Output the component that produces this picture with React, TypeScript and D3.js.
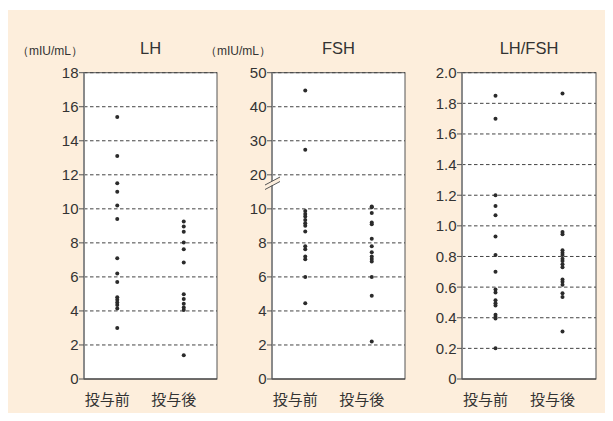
import React from "react";
import * as d3 from "d3";

const groups = ["投与前", "投与後"];

const lhPre = [15.4, 13.1, 11.5, 11.0, 10.2, 9.4, 7.1, 6.2, 5.7, 4.8, 4.65, 4.5, 4.35, 4.14, 3.0];
const lhPost = [9.25, 8.96, 8.65, 8.02, 7.63, 6.85, 4.98, 4.7, 4.42, 4.2, 4.05, 1.4];
const lhTicks = [0, 2, 4, 6, 8, 10, 12, 14, 16, 18];

const fshPre = [44.8, 27.4, 9.88, 9.7, 9.55, 9.35, 9.16, 9.0, 8.67, 7.8, 7.63, 7.2, 7.04, 6.0, 4.45];
const fshPost = [10.7, 10.45, 9.75, 9.2, 9.1, 8.25, 7.8, 7.45, 7.2, 7.05, 6.9, 6.0, 4.9, 2.2];
const fshTicks = [0, 2, 4, 6, 8, 10, 20, 30, 40, 50];

const ratioPre = [1.85, 1.7, 1.2, 1.13, 1.07, 0.93, 0.81, 0.7, 0.585, 0.565, 0.515, 0.495, 0.48, 0.42, 0.405, 0.395, 0.2];
const ratioPost = [1.865, 0.96, 0.945, 0.84, 0.825, 0.81, 0.785, 0.77, 0.75, 0.73, 0.65, 0.635, 0.615, 0.56, 0.535, 0.31];
const ratioTicks = [0, 0.2, 0.4, 0.6, 0.8, 1.0, 1.2, 1.4, 1.6, 1.8, 2.0];

const TOP = 72.7;
const BOTTOM = 379;
const NUM_FONT = "'Liberation Sans', Arial, sans-serif";
const JP_FONT = "'Noto Sans CJK JP', sans-serif";
const BG = "#fdeedc";

type PanelProps = {
  x0: number;
  w: number;
  title: string;
  unit?: boolean;
  y: (v: number) => number;
  ticks: number[];
  fmt: (v: number) => string;
  pre: number[];
  post: number[];
  brk?: boolean;
};

function Panel({ x0, w, title, unit, y, ticks, fmt, pre, post, brk }: PanelProps) {
  const x = d3.scalePoint<string>().domain(groups).range([x0, x0 + w]).padding(0.5);
  const series = [pre, post];
  return (
    <g>
      <rect x={x0} y={TOP} width={w} height={BOTTOM - TOP} fill="#fff" stroke="#555" strokeWidth={1} />
      {ticks.filter((t) => t !== ticks[0]).map((t) => (
        <line key={"g" + t} x1={x0} x2={x0 + w} y1={y(t)} y2={y(t)} stroke="#444" strokeWidth={1} strokeDasharray="3.5,2.5" />
      ))}
      <line x1={x0} x2={x0} y1={TOP} y2={BOTTOM} stroke="#8a8a8a" strokeWidth={2} />
      <line x1={x0} x2={x0 + w} y1={BOTTOM} y2={BOTTOM} stroke="#333" strokeWidth={1.2} />
      {ticks.map((t) => (
        <g key={"t" + t}>
          <line x1={x0 - 5} x2={x0} y1={y(t)} y2={y(t)} stroke="#555" strokeWidth={1} />
          <text x={x0 - 5.5} y={y(t)} dy="0.36em" textAnchor="end" fontSize={15} fill="#333" fontFamily={NUM_FONT}>
            {fmt(t)}
          </text>
        </g>
      ))}
      {brk && (
        <g>
          <polygon points={`${x0 - 7},${189} ${x0 + 8},${181} ${x0 + 8},${177} ${x0 - 7},${185}`} fill={BG} />
          <line x1={x0 - 7} y1={189.5} x2={x0 + 8} y2={181.5} stroke="#555" strokeWidth={1} />
          <line x1={x0 - 7} y1={185} x2={x0 + 8} y2={177} stroke="#555" strokeWidth={1} />
        </g>
      )}
      {series.map((vals, i) =>
        vals.map((v, j) => (
          <circle key={i + "-" + j} cx={x(groups[i])!} cy={y(v)} r={2} fill="#2b2b2b" />
        ))
      )}
      {groups.map((g) => (
        <text key={g} x={x(g)! - 10} y={405} textAnchor="middle" fontSize={15} fill="#333" fontFamily={JP_FONT}>
          {g}
        </text>
      ))}
      <text x={x0 + w / 2} y={54} textAnchor="middle" fontSize={16.5} fill="#333" fontFamily={NUM_FONT}>
        {title}
      </text>
      {unit && (
        <text x={x0 - 1} y={55} textAnchor="end" fontSize={12} fill="#333" fontFamily={NUM_FONT}>
          （mIU/mL）
        </text>
      )}
    </g>
  );
}

export default function App() {
  const yLH = d3.scaleLinear().domain([0, 18]).range([BOTTOM, TOP]);
  const yFSH = d3.scaleLinear().domain([0, 10, 20, 50]).range([BOTTOM, BOTTOM - 5 * 34.03, BOTTOM - 6 * 34.03, TOP]);
  const yR = d3.scaleLinear().domain([0, 2]).range([BOTTOM, TOP]);
  return (
    <svg width={613} height={421} style={{ position: "absolute", left: 0, top: 0 }}>
      <rect x={8} y={10} width={597} height={403} fill={BG} />
      <Panel x0={84} w={133} title="LH" unit y={yLH} ticks={lhTicks} fmt={(v) => String(v)} pre={lhPre} post={lhPost} />
      <Panel x0={272} w={133} title="FSH" unit y={yFSH} ticks={fshTicks} fmt={(v) => String(v)} pre={fshPre} post={fshPost} brk />
      <Panel x0={462} w={134} title="LH/FSH" y={yR} ticks={ratioTicks} fmt={(v) => (v === 0 ? "0" : v.toFixed(1))} pre={ratioPre} post={ratioPost} />
    </svg>
  );
}
